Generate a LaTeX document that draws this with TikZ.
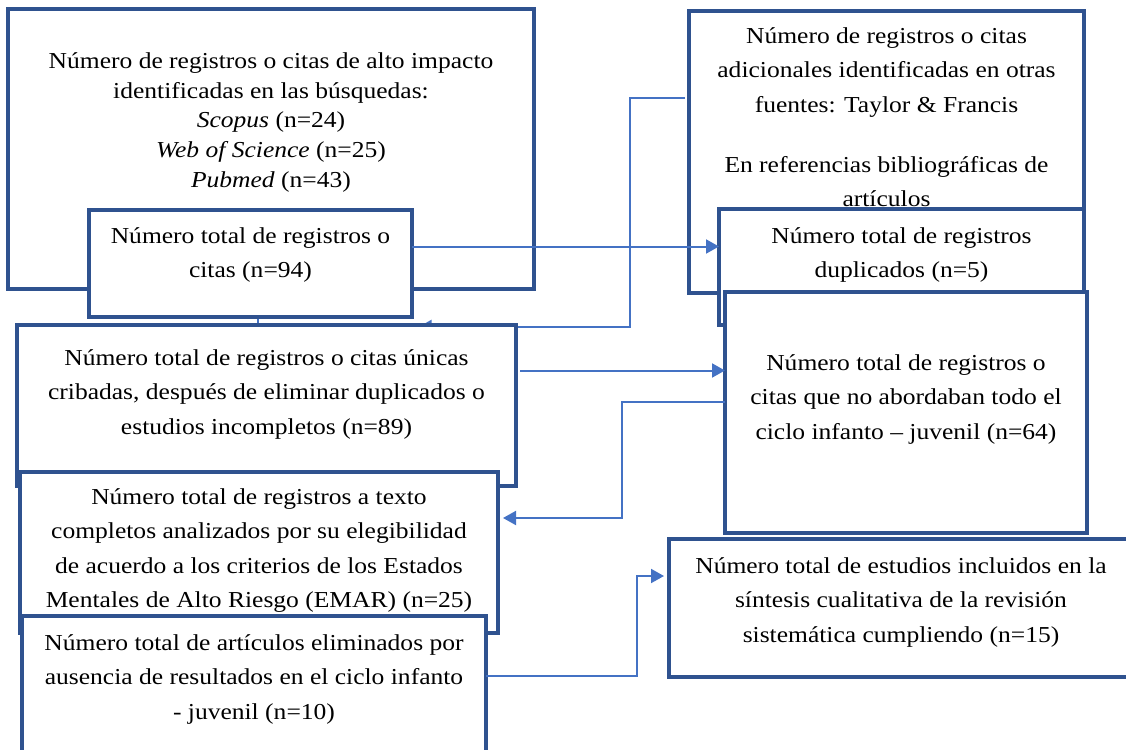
\documentclass[tikz,border=0pt]{standalone}
\usepackage{fontspec}
\setmainfont{Liberation Serif}[FakeStretch=1.12]
\usetikzlibrary{calc, positioning, arrows.meta, backgrounds}
\definecolor{boxblue}{HTML}{2F528F}
\definecolor{linkblue}{HTML}{4472C4}
\tikzstyle{box}=[rectangle, draw=boxblue, line width=1.6pt, fill=white, inner sep=0pt, outer sep=0pt, anchor=north west]
\tikzstyle{txt}=[align=center, inner sep=0pt, font=\fontsize{11.4}{17.15}\selectfont]
\tikzstyle{link}=[draw=linkblue, line width=1pt, -{Triangle[length=6.5pt,width=7pt]}]
\tikzstyle{stub}=[draw=linkblue, line width=1pt]
\begin{document}
\begin{tikzpicture}[x=0.5pt, y=-0.5pt]
	\useasboundingbox (0,0) rectangle (1126,750);
	\clip (0,0) rectangle (1126,750);

	% busquedas
	\node[box, minimum width=263pt, minimum height=140pt] (A) at (8,9) {};
	\node[txt, font=\fontsize{11.4}{14.85}\selectfont, below=21.65pt of A.north] (At) {Número de registros o citas de alto impacto\\ identificadas en las búsquedas:\\ \textit{Scopus} (n=24)\\ \textit{Web of Science} (n=25)\\ \textit{Pubmed} (n=43)};
	\node[box, minimum width=161.5pt, minimum height=53.5pt] (B) at (89,210) {};
	\node[txt, below=8.65pt of B.north] (Bt) {Número total de registros o\\ citas (n=94)};

	% otras fuentes
	\node[box, minimum width=197.5pt, minimum height=141pt] (F) at (689,11) {};
	\node[txt, below=8.15pt of F.north] (Ft) {Número de registros o citas\\ adicionales identificadas en otras\\ fuentes: Taylor \& Francis\\[12.85pt] En referencias bibliográficas de\\ artículos};
	\node[box, minimum width=182.5pt, minimum height=58pt] (G) at (719,209) {};
	\node[txt, below=9.15pt of G.north] (Gt) {Número total de registros\\ duplicados (n=5)};

	% cribado
	\node[box, minimum width=249.5pt, minimum height=80.5pt] (C) at (17,325) {};
	\node[txt, below=12.15pt of C.north] (Ct) {Número total de registros o citas únicas\\ cribadas, después de eliminar duplicados o\\ estudios incompletos (n=89)};
	\node[box, minimum width=181pt, minimum height=120.5pt] (H) at (725,292) {};
	\node[txt, below=31.15pt of H.north] (Ht) {Número total de registros o\\ citas que no abordaban todo el\\ ciclo infanto \textendash{} juvenil (n=64)};

	% elegibilidad
	\node[box, minimum width=239pt, minimum height=80.5pt] (D) at (20,472) {};
	\node[txt, below=8.15pt of D.north] (Dt) {Número total de registros a texto\\ completos analizados por su elegibilidad\\ de acuerdo a los criterios de los Estados\\ Mentales de Alto Riesgo (EMAR) (n=25)};
	\node[box, minimum width=232pt, minimum height=77pt] (E) at (22,616) {};
	\node[txt, below=9.15pt of E.north] (Et) {Número total de artículos eliminados por\\ ausencia de resultados en el ciclo infanto\\ - juvenil (n=10)};

	% incluidos
	\node[box, minimum width=232pt, minimum height=69pt] (I) at (669,539) {};
	\node[txt, below=9.15pt of I.north] (It) {Número total de estudios incluidos en la\\ síntesis cualitativa de la revisión\\ sistemática cumpliendo (n=15)};

	% flechas
	\coordinate (b1) at ($(B.east)+(0,-17)$);
	\draw[link] (b1) -- (b1 -| G.west);
	\coordinate (c1) at ($(C.east)+(4,-35)$);
	\draw[link] (c1) -- (c1 -| H.west);
	\coordinate (h1) at ($(H.west)+(0,-10.5)$);
	\coordinate (d1) at ($(D.east)+(5,-34.5)$);
	\draw[link] (h1) -- ++(-103,0) |- (d1);
	\coordinate (e1) at ($(E.north east)+(0,60)$);
	\coordinate (i1) at ($(I.west)+(-5,-32)$);
	\draw[link] (e1) -- ++(151,0) |- (i1);
	\begin{pgfonlayer}{background}
		\coordinate (f1) at ($(F.west)+(-4,-54)$);
		\draw[link] (f1) -- ++(-55,0) |- ($(C.north)+(152,2)$);
		\draw[stub] ([xshift=3.75pt]B.south) -- ++(0,8);
	\end{pgfonlayer}
\end{tikzpicture}
\end{document}
